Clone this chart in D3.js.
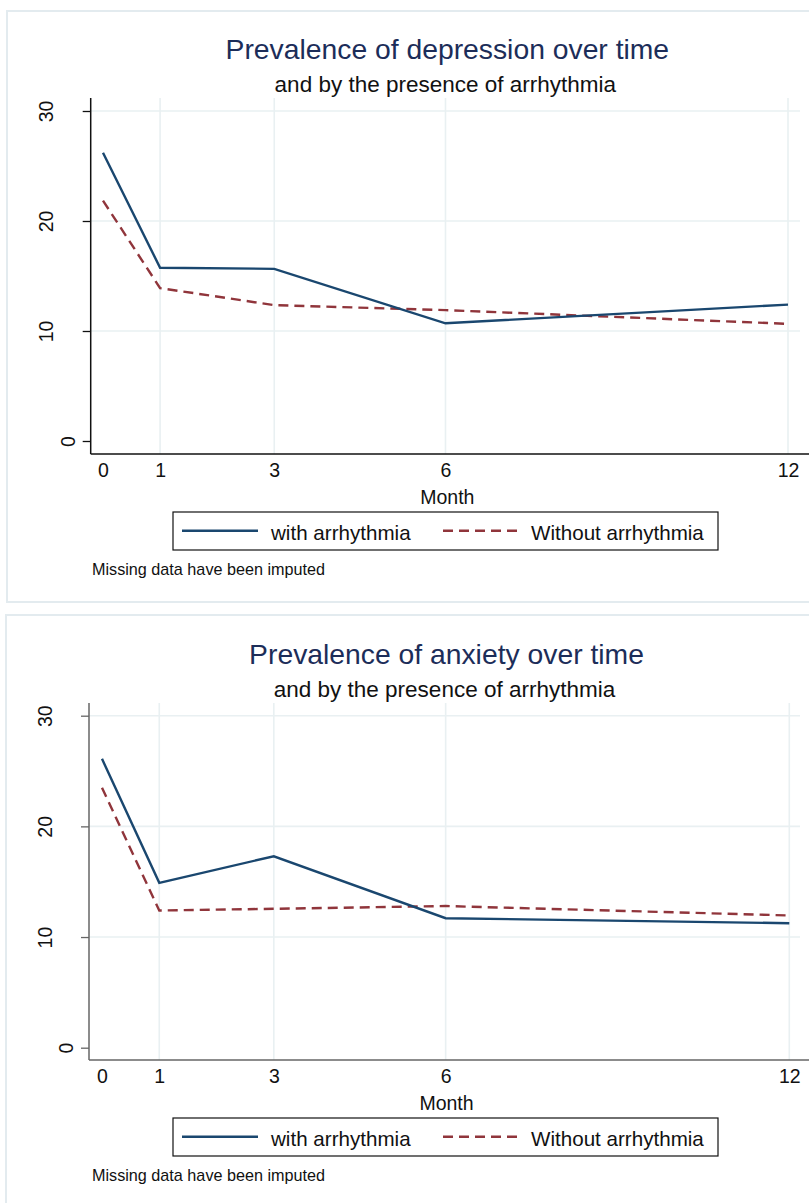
<!DOCTYPE html>
<html>
<head>
<meta charset="utf-8">
<script src="https://cdn.jsdelivr.net/npm/d3@7"></script>
<style>
  body { margin: 0; background: #fff; }
  svg { display: block; font-family: "Liberation Sans", Arial, sans-serif; }
</style>
</head>
<body>
<svg id="chart" width="809" height="1203"></svg>
<script>
// ---- data ----
const months = [0, 1, 3, 6, 12];
const yTicks = [0, 10, 20, 30];
const seriesNames = ["with arrhythmia", "Without arrhythmia"];

const depWith = [26.2, 15.75, 15.65, 10.7, 12.4];
const depWithout = [21.85, 13.9, 12.35, 11.9, 10.65];

const anxWith = [26.1, 14.9, 17.3, 11.7, 11.25];
const anxWithout = [23.5, 12.4, 12.55, 12.8, 11.95];

const titles = ["Prevalence of depression over time", "Prevalence of anxiety over time"];
const subtitle = "and by the presence of arrhythmia";
const xTitle = "Month";
const note = "Missing data have been imputed";

// ---- styles ----
const navy = "#1a476f";
const maroon = "#90353b";
const gridCol = "#e9f0f2";

const svg = d3.select("#chart");

// each panel gets its own frame (Stata output pasted twice)
const panels = [
    {title: titles[0], w: depWith, wo: depWithout, top: 0,
     box: [7, 11, 812, 591], axisX: 90.7, plotTop: 98, axisY: 454,
     x0: 103, x12: 788, y0: 441, y30: 111, axisCol: "#111"},
    {title: titles[1], w: anxWith, wo: anxWithout, top: 605,
     box: [6, 615, 812, 600], axisX: 89, plotTop: 703, axisY: 1060,
     x0: 102, x12: 789.3, y0: 1047.7, y30: 715.7, axisCol: "#666"}
];

panels.forEach(p => drawPanel(p));

function drawPanel(p) {
    const g = svg.append("g");

    // outer frame
    g.append("rect")
        .attr("x", p.box[0]).attr("y", p.box[1])
        .attr("width", p.box[2]).attr("height", p.box[3])
        .attr("fill", "#fff")
        .attr("stroke", "#e3ebef")
        .attr("stroke-width", 2);

    const right = 800;
    const x = d3.scaleLinear().domain([0, 12]).range([p.x0, p.x12]);
    const y = d3.scaleLinear().domain([0, 30]).range([p.y0, p.y30]);

    // grid
    g.selectAll(".hgrid")
        .data(yTicks.filter(d => d > 0))
        .enter().append("line")
        .attr("x1", p.axisX).attr("x2", right)
        .attr("y1", d => y(d)).attr("y2", d => y(d))
        .attr("stroke", gridCol).attr("stroke-width", 1.6);

    g.selectAll(".vgrid")
        .data(months.filter(d => d > 0))
        .enter().append("line")
        .attr("x1", d => x(d)).attr("x2", d => x(d))
        .attr("y1", p.plotTop).attr("y2", p.axisY)
        .attr("stroke", gridCol).attr("stroke-width", 1.6);

    // titles
    const mid = (p.axisX + right) / 2 + 2;
    g.append("text")
        .attr("x", mid).attr("y", p.top + 59.3)
        .attr("text-anchor", "middle")
        .attr("font-size", 28.3)
        .attr("fill", "#1c2d59")
        .text(p.title);

    g.append("text")
        .attr("x", mid - 2).attr("y", p.top + 91.5)
        .attr("text-anchor", "middle")
        .attr("font-size", 22.5)
        .attr("fill", "#111")
        .text(subtitle);

    // y axis
    const yAxis = g.append("g")
        .attr("transform", "translate(" + p.axisX + ",0)")
        .call(d3.axisLeft(y).tickValues(yTicks).tickSize(8).tickSizeOuter(0));
    yAxis.select(".domain").remove();
    yAxis.selectAll(".tick line").attr("stroke", p.axisCol).attr("stroke-width", 1.3);
    // rotated labels, shorter labels sit closer to the axis
    yAxis.selectAll(".tick text")
        .attr("font-size", 19.5)
        .attr("font-family", "Liberation Sans, Arial, sans-serif")
        .attr("fill", "#111")
        .attr("text-anchor", "middle")
        .attr("dy", 0)
        .attr("x", 0)
        .attr("transform", "rotate(-90)")
        .each(function () {
            const w = this.getComputedTextLength();
            d3.select(this).attr("y", -(2 * w - 6));
        });

    g.append("line")
        .attr("x1", p.axisX).attr("x2", p.axisX)
        .attr("y1", p.plotTop).attr("y2", p.axisY)
        .attr("stroke", p.axisCol).attr("stroke-width", 1.5);

    // x axis
    const xAxis = g.append("g")
        .attr("transform", "translate(0," + p.axisY + ")")
        .call(d3.axisBottom(x).tickValues(months).tickSize(0).tickSizeOuter(0));
    xAxis.select(".domain").remove();
    xAxis.selectAll(".tick text")
        .attr("font-size", 19.5)
        .attr("font-family", "Liberation Sans, Arial, sans-serif")
        .attr("fill", "#111")
        .attr("dy", 0)
        .attr("y", 23.3);

    g.append("line")
        .attr("x1", p.axisX).attr("x2", 809)
        .attr("y1", p.axisY).attr("y2", p.axisY)
        .attr("stroke", p.axisCol).attr("stroke-width", 1.5);

    g.append("text")
        .attr("x", mid).attr("y", p.axisY + 50)
        .attr("text-anchor", "middle")
        .attr("font-size", 19.5)
        .attr("fill", "#111")
        .text(xTitle);

    // lines
    const line = d3.line()
        .x((d, i) => x(months[i]))
        .y(d => y(d));

    g.append("path")
        .datum(p.wo)
        .attr("d", line)
        .attr("fill", "none")
        .attr("stroke", maroon)
        .attr("stroke-width", 2.4)
        .attr("stroke-dasharray", "10,6");

    g.append("path")
        .datum(p.w)
        .attr("d", line)
        .attr("fill", "none")
        .attr("stroke", navy)
        .attr("stroke-width", 2.4);

    // legend
    const ly = p.axisY + 58;
    const leg = g.append("g");
    leg.append("rect")
        .attr("x", 173).attr("y", ly)
        .attr("width", 545).attr("height", 38)
        .attr("fill", "#fff")
        .attr("stroke", "#111")
        .attr("stroke-width", 1.2);

    const legItems = [
        {name: seriesNames[0], col: navy, dash: null, x1: 182, x2: 258, tx: 271},
        {name: seriesNames[1], col: maroon, dash: "10,6", x1: 443, x2: 518, tx: 531}
    ];
    legItems.forEach(it => {
        leg.append("line")
            .attr("x1", it.x1).attr("x2", it.x2)
            .attr("y1", ly + 18.7).attr("y2", ly + 18.7)
            .attr("stroke", it.col)
            .attr("stroke-width", 2.4)
            .attr("stroke-dasharray", it.dash);
        leg.append("text")
            .attr("x", it.tx).attr("y", ly + 28)
            .attr("font-size", 20.6)
            .attr("fill", "#111")
            .text(it.name);
    });

    // note
    g.append("text")
        .attr("x", 92).attr("y", p.axisY + 121)
        .attr("font-size", 16.2)
        .attr("fill", "#111")
        .text(note);
}
</script>
</body>
</html>
